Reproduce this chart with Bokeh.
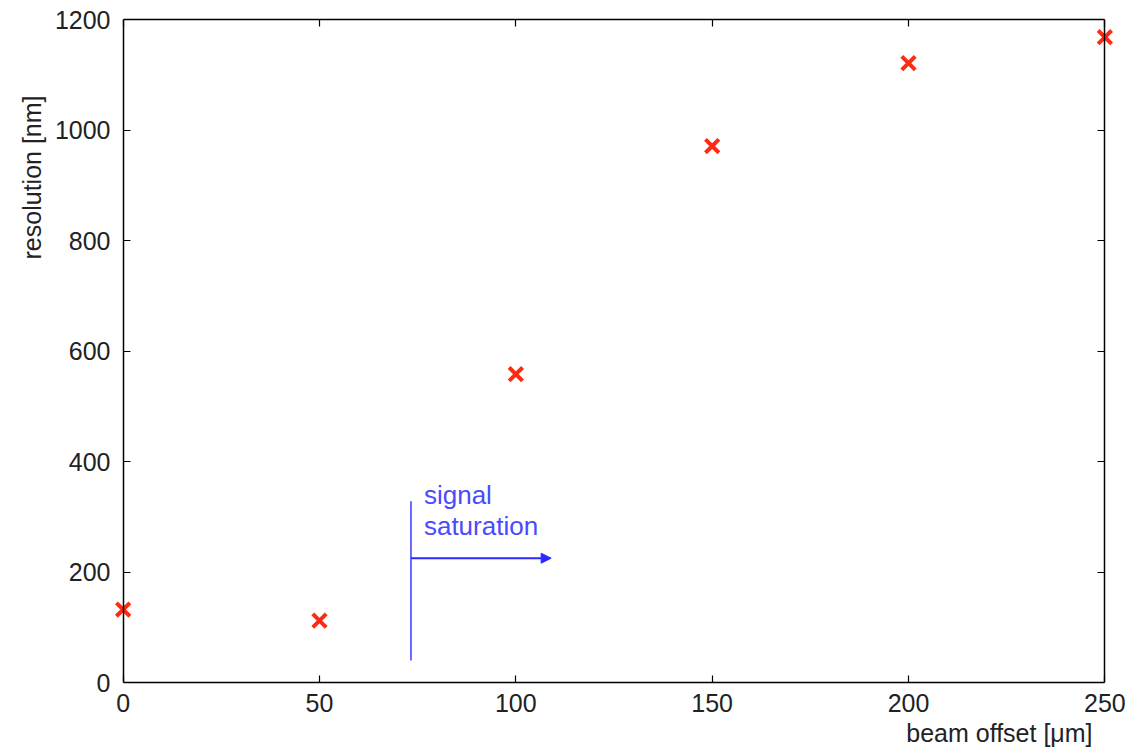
from bokeh.plotting import figure
from bokeh.models import Range1d, LinearAxis, Arrow, NormalHead, Label, FixedTicker, Title
from bokeh.embed import file_html
from bokeh.resources import INLINE

# data
beam_offset = [0, 50, 100, 150, 200, 250]
resolution = [132, 112, 558, 971, 1121, 1168]
x_ticks = [0, 50, 100, 150, 200, 250]
y_ticks = [0, 200, 400, 600, 800, 1000, 1200]
x_lim = (0, 250)
y_lim = (0, 1200)
sat_x = 73.3
sat_y = [40, 328]
arrow_x = [73.3, 109]
arrow_y = 225
note_x = 76.6
note_lines = ["signal", "saturation"]
note_y = [339, 283]
x_label = "beam offset [\u03bcm]"
y_label = "resolution [nm]"

FONT = "Liberation Sans"
TXT = "#222222"
PAD = 5  # room so the edge markers are not clipped

p = figure(width=1136, height=748, output_backend="svg", toolbar_location=None,
           x_range=Range1d(x_lim[0] - PAD, x_lim[1] + PAD), y_range=Range1d(*y_lim),
           min_border_left=103, min_border_right=12, min_border_top=19, min_border_bottom=62)
p.grid.visible = False
p.outline_line_color = None
p.background_fill_color = "white"
p.border_fill_color = "white"


def style(ax, labels=True):
    ax.axis_line_color = "black"
    ax.axis_line_width = 1.5
    ax.major_tick_in = 7
    ax.major_tick_out = 0
    ax.minor_tick_line_color = None
    ax.major_tick_line_width = 1.2
    if labels:
        ax.major_label_text_font = FONT
        ax.major_label_text_font_size = "25px"
        ax.major_label_text_color = TXT
    else:
        ax.major_label_text_font_size = "0px"
        ax.major_label_standoff = 0


xa = p.xaxis[0]
ya = p.yaxis[0]
style(xa)
style(ya)
xa.ticker = FixedTicker(ticks=x_ticks)
xa.bounds = x_lim
xa.major_label_standoff = 11

# left axis: labels only (sits at the frame edge), line/ticks drawn by a second axis at x = 0
ya.ticker = FixedTicker(ticks=y_ticks)
ya.axis_line_color = None
ya.major_tick_line_color = None
ya.major_label_standoff = -7

left_line = LinearAxis(ticker=FixedTicker(ticks=y_ticks), fixed_location=x_lim[0])
top = LinearAxis(ticker=FixedTicker(ticks=x_ticks), bounds=x_lim)
right = LinearAxis(ticker=FixedTicker(ticks=y_ticks), fixed_location=x_lim[1])
style(left_line, False)
style(top, False)
style(right, False)
p.add_layout(left_line, "left")
p.add_layout(top, "above")
p.add_layout(right, "right")

p.scatter(beam_offset, resolution, marker="x", size=19, line_color="#ff2a12", line_width=4)

p.segment(x0=[sat_x], y0=[sat_y[0]], x1=[sat_x], y1=[sat_y[1]], line_color="#3a3aff", line_width=1.5)
p.add_layout(Arrow(end=NormalHead(size=10, fill_color="#2a2aff", line_color="#2a2aff"),
                   x_start=arrow_x[0], y_start=arrow_y, x_end=arrow_x[1], y_end=arrow_y,
                   line_color="#2a2aff", line_width=2))
for txt, yy in zip(note_lines, note_y):
    p.add_layout(Label(x=note_x, y=yy, text=txt, text_font=FONT, text_font_size="26px",
                       text_color="#4a4aff", text_baseline="middle"))

# axis titles
p.add_layout(Title(text=x_label, align="right", offset=32, text_font=FONT, text_font_size="25px",
                   text_color=TXT, text_font_style="normal", standoff=4), "below")
p.add_layout(Title(text=y_label, align="right", offset=76, text_font=FONT, text_font_size="25px",
                   text_color=TXT, text_font_style="normal", standoff=12), "left")

open("out.html", "w").write(file_html(p, INLINE))
